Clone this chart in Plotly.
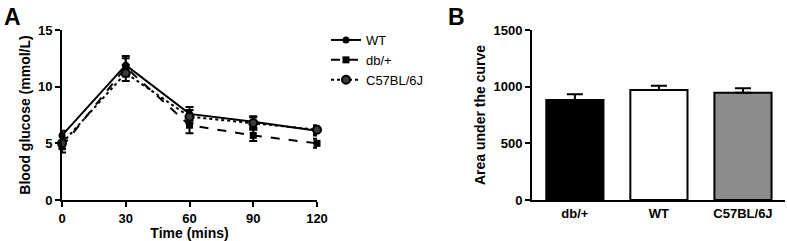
import plotly.graph_objects as go

time_pts = [0, 30, 60, 90, 120]
wt_vals = [5.7, 11.9, 7.6, 6.9, 6.1]
wt_err = [0.4, 0.8, 0.6, 0.5, 0.4]
db_vals = [4.7, 11.7, 6.6, 5.7, 5.0]
db_err = [0.5, 0.8, 0.7, 0.5, 0.4]
c57_vals = [5.0, 11.2, 7.35, 6.8, 6.2]
c57_err = [0.5, 0.7, 0.6, 0.5, 0.4]

auc_groups = ["db/+", "WT", "C57BL/6J"]
auc_vals = [882, 970, 947]
auc_err = [50, 38, 39]
auc_colors = ["#000000", "#ffffff", "#8c8c8c"]

W, H = 787, 241
def px_x(p): return p / W
def px_y(p): return 1 - p / H

fig = go.Figure()
font = "Liberation Sans, Arial, sans-serif"

series = [
    ("WT", wt_vals, wt_err, "solid", dict(symbol="circle", size=7, color="black")),
    ("db/+", db_vals, db_err, "dash", dict(symbol="square", size=7, color="black")),
    ("C57BL/6J", c57_vals, c57_err, "dot",
     dict(symbol="circle", size=8, color="#3a3a3a", line=dict(color="black", width=2))),
]
for name, vals, err, dash, mk in series:
    fig.add_trace(go.Scatter(
        x=time_pts, y=vals, name=name, mode="lines+markers",
        line=dict(color="black", width=2, dash=dash),
        marker=mk,
        error_y=dict(type="data", array=err, color="black", thickness=2, width=4),
        cliponaxis=False, xaxis="x", yaxis="y",
    ))

fig.add_trace(go.Bar(
    x=auc_groups, y=auc_vals, showlegend=False,
    marker=dict(color=auc_colors, line=dict(color="black", width=2)),
    width=0.68,
    error_y=dict(type="data", array=auc_err, arrayminus=[0, 0, 0], symmetric=False,
                 color="black", thickness=2, width=8),
    xaxis="x2", yaxis="y2",
))

axis_common = dict(showline=True, linecolor="black", linewidth=2, ticks="outside",
                   ticklen=5, tickwidth=2, tickcolor="black", showgrid=False, zeroline=False,
                   automargin=False,
                   tickfont=dict(family=font, size=13, color="black", weight=700),
                   title_font=dict(family=font, size=14, color="black", weight=700))

fig.update_layout(
    template="none",
    width=W, height=H, margin=dict(l=0, r=0, t=0, b=0, pad=0),
    plot_bgcolor="white", paper_bgcolor="white",
    font=dict(family=font, color="black"),
    xaxis=dict(domain=[px_x(62), px_x(317)], range=[0, 120], tickvals=time_pts,
               title=dict(text="Time (mins)", standoff=2), anchor="y", **axis_common),
    yaxis=dict(domain=[px_y(200), px_y(30)], range=[0, 15], tickvals=[0, 5, 10, 15],
               title=dict(text="Blood glucose (mmol/L)", standoff=4), anchor="x", **axis_common),
    xaxis2=dict(domain=[px_x(532), px_x(785)], range=[-0.51, 2.5],
                title=None, anchor="y2", **axis_common),
    yaxis2=dict(domain=[px_y(200), px_y(30)], range=[0, 1500], tickvals=[0, 500, 1000, 1500],
                title=dict(text="Area under the curve", standoff=5), anchor="x2", **axis_common),
    legend=dict(x=px_x(326), y=px_y(25), xanchor="left", yanchor="top",
                font=dict(family=font, size=13, color="black"),
                itemwidth=30, tracegroupgap=0, bgcolor="rgba(0,0,0,0)"),
    bargap=0.3,
)
fig.update_xaxes(ticks="", selector=dict(anchor="y2"))

fig.add_annotation(text="A", x=px_x(2), y=px_y(2), xref="paper", yref="paper",
                   xanchor="left", yanchor="top", showarrow=False,
                   font=dict(family=font, size=23, color="black", weight=700))
fig.add_annotation(text="B", x=px_x(446), y=px_y(2), xref="paper", yref="paper",
                   xanchor="left", yanchor="top", showarrow=False,
                   font=dict(family=font, size=23, color="black", weight=700))

fig.write_html("out.html", config={"displayModeBar": False},
               post_script="document.body.style.margin='0';document.body.style.padding='0';")
